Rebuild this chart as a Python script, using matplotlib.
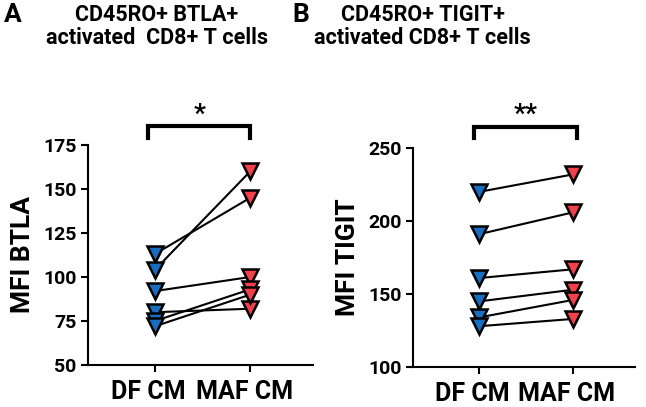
import matplotlib
matplotlib.use("Agg")
import matplotlib.pyplot as plt
import matplotlib.transforms as mtransforms

# paired MFI values, one entry per donor
groups = ["DF CM", "MAF CM"]
btla_df = [113, 104, 92, 80, 75, 72]
btla_maf = [145, 160, 100, 82, 93, 90]
tigit_df = [220, 191, 161, 145, 134, 128]
tigit_maf = [232, 206, 167, 153, 146, 133]

BLUE = "#1a6ebf"
RED = "#f2404c"
FONT = ["Roboto", "DejaVu Sans"]
plt.rcParams["font.family"] = FONT
plt.rcParams["font.weight"] = "bold"


def paired_panel(fig, ax, df_vals, maf_vals, ylim, yticks, ylabel, stars, bracket):
    for a, b in zip(df_vals, maf_vals):
        ax.plot([0, 1], [a, b], color="black", lw=1.5, zorder=1)
    ax.plot([0] * len(df_vals), df_vals, "v", ms=12, mfc=BLUE, mec="black",
            mew=1.8, ls="none", zorder=3)
    ax.plot([1] * len(maf_vals), maf_vals, "v", ms=12, mfc=RED, mec="black",
            mew=1.8, ls="none", zorder=3)
    ax.set_xlim(-0.7, 1.66)
    ax.set_ylim(*ylim)
    ax.set_yticks(yticks)
    ax.set_xticks([0, 1])
    ax.set_xticklabels(groups, fontsize=18, fontweight="bold")
    ax.tick_params(axis="y", labelsize=14, width=1.5, length=5, pad=3)
    ax.tick_params(axis="x", width=1.5, length=5, pad=6)
    shift = mtransforms.ScaledTranslation(-6 / 100, 0, fig.dpi_scale_trans)
    for lab in ax.get_xticklabels():
        lab.set_transform(lab.get_transform() + shift)
    for lab in ax.get_yticklabels():
        lab.set_fontweight("bold")
    ax.set_ylabel(ylabel, fontsize=19, fontweight="bold", labelpad=6)
    for s in ("top", "right"):
        ax.spines[s].set_visible(False)
    for s in ("left", "bottom"):
        ax.spines[s].set_linewidth(1.5)

    # significance bracket
    x0, x1, ytop, yleg = bracket
    ax.plot([x0, x0, x1, x1], [yleg, ytop, ytop, yleg], color="black",
            lw=3, clip_on=False, solid_joinstyle="miter")
    ax.text((x0 + x1) / 2, ytop, stars, ha="center", va="bottom",
            fontsize=19, fontweight="bold", clip_on=False)


fig = plt.figure(figsize=(6.46, 4.07), dpi=100)
ax1 = fig.add_axes([0.136, 0.103, 0.349, 0.541])
ax2 = fig.add_axes([0.639, 0.098, 0.344, 0.538])

paired_panel(fig, ax1, btla_df, btla_maf, (50, 175), [50, 75, 100, 125, 150, 175],
             "MFI BTLA", "*", (-0.07, 1.0, 185.5, 179))
paired_panel(fig, ax2, tigit_df, tigit_maf, (100, 250), [100, 150, 200, 250],
             "MFI TIGIT", "**", (-0.05, 1.04, 264.5, 257))

fig.text(0.006, 0.962, "A", fontsize=19, fontweight="bold", va="center")
fig.text(0.452, 0.962, "B", fontsize=19, fontweight="bold", va="center")
fig.text(0.243, 0.962, "CD45RO+ BTLA+", fontsize=15.5, fontweight="bold",
         ha="center", va="center")
fig.text(0.243, 0.907, "activated  CD8+ T cells", fontsize=15.5,
         fontweight="bold", ha="center", va="center")
fig.text(0.654, 0.962, "CD45RO+ TIGIT+", fontsize=15.5, fontweight="bold",
         ha="center", va="center")
fig.text(0.654, 0.907, "activated CD8+ T cells", fontsize=15.5,
         fontweight="bold", ha="center", va="center")

fig.savefig("out.png", dpi=100)
